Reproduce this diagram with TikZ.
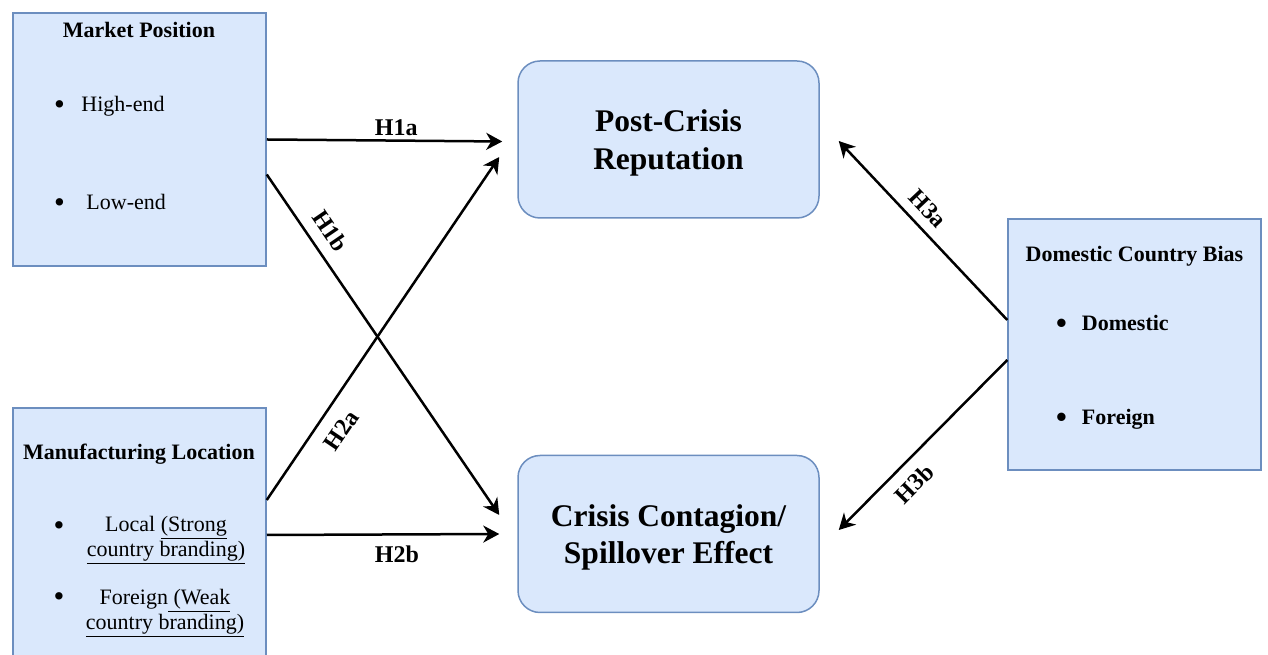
\documentclass[tikz,border=0pt]{standalone}
\usepackage{fontspec}
\setmainfont{Liberation Serif}
\usepackage{tikz}
\usetikzlibrary{arrows.meta}
\definecolor{boxfill}{HTML}{DAE8FC}
\definecolor{boxline}{HTML}{6C8EBF}
\newcommand{\bigdot}{\raisebox{-0.12em}{\scalebox{1.4}{\textbullet}}}
\tikzset{
    every node/.style={align=center,},
    factor/.style={draw=boxline,fill=boxfill,line width=1.5pt,minimum width=253pt,inner sep=0pt,},
    outcome/.style={draw=boxline,fill=boxfill,line width=1.5pt,rounded corners=22pt,minimum width=301pt,minimum height=157pt,font=\fontsize{31.5}{37.5}\selectfont\bfseries,},
    item/.style={inner sep=0pt,font=\fontsize{22}{25}\selectfont,},
    heading/.style={inner sep=0pt,font=\fontsize{22}{25}\selectfont\bfseries,},
    hyp/.style={font=\fontsize{24}{28}\selectfont\bfseries,},
    link/.style={-{Stealth[length=16pt,width=17pt,inset=5pt]},line width=2.5pt,},
    backlink/.style={{Stealth[length=16pt,width=17pt,inset=5pt]}-,line width=2.5pt,},
}

\begin{document}
\begin{tikzpicture}[x=1pt,y=1pt]
                \useasboundingbox (0,0) rectangle (1268,655);
                \clip (0,0) rectangle (1268,655);

                % left side
                \node[factor,minimum height=253pt] (market) at (139.5,515.5) {};
                \node[heading,anchor=base] (markettitle) at (139,617) {Market Position};
                \node[item,anchor=base west] (high) at (54,543) {\bigdot\hspace{16.5pt}High-end};
                \node[item,anchor=base west] (low) at (54,445) {\bigdot\hspace{21.5pt}Low-end};

                \node[factor,minimum height=264pt] (manuf) at (139.5,115) {};
                \node[heading,anchor=base] (manuftitle) at (139,195) {Manufacturing Location};
                \node[item,anchor=base] (localdot) at (59,122) {\bigdot};
                \node[item,anchor=base] (local) at (166,98) {Local \underline{(Strong}\\\underline{country branding)}};
                \node[item,anchor=base] (foreigndot) at (59,51) {\bigdot};
                \node[item,anchor=base] (foreign) at (165,25) {Foreign\underline{ (Weak}\\\underline{country branding)}};

                % outcomes
                \node[outcome] (reput) at (668.5,515.5) {\rule{0pt}{29pt}Post-Crisis\\Reputation};
                \node[outcome] (spill) at (668.5,121) {\rule{0pt}{29pt}Crisis Contagion/\\Spillover Effect};

                % right side
                \node[factor,minimum height=251pt] (bias) at (1134.5,310.5) {};
                \node[heading,anchor=base] (biastitle) at (1134.5,393) {Domestic Country Bias};
                \node[heading,anchor=base west] (dom) at (1056,324) {\bigdot\hspace{15pt}Domestic};
                \node[heading,anchor=base west] (for) at (1056,230) {\bigdot\hspace{15pt}Foreign};

                \draw[link] (market.east) to node[hyp,pos=0.55,above] {H1a} ([xshift=-15pt,yshift=-2pt]reput.west);
                \draw[link] ([yshift=-35pt]market.east) to node[hyp,pos=0.2,sloped,above=8pt] {H1b} ([xshift=-18pt,yshift=19pt]spill.west);

                \draw[link] ([yshift=40pt]manuf.east) to node[hyp,pos=0.24,sloped,below=10pt] {H2a} ([xshift=-18pt,yshift=-17.5pt]reput.west);
                \draw[link] ([yshift=5pt]manuf.east) to node[hyp,pos=0.56,below=7pt] {H2b} ([xshift=-18pt]spill.west);

                \draw[backlink] ([xshift=19pt,yshift=-1.5pt]reput.east) to node[hyp,pos=0.45,sloped,above=6pt] {H3a} ([yshift=24.5pt]bias.west);
                \draw[backlink] ([xshift=19pt,yshift=4pt]spill.east) to node[hyp,pos=0.36,sloped,below=8pt] {H3b} ([yshift=-15.5pt]bias.west);
            \end{tikzpicture}
\end{document}
